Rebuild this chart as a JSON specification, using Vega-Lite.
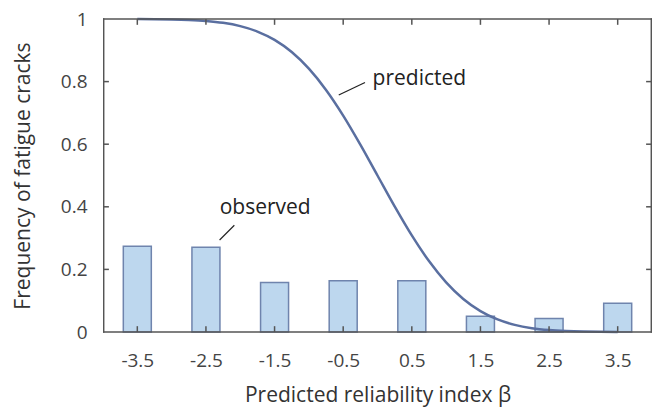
{
  "$schema": "https://vega.github.io/schema/vega-lite/v6.json",
  "autosize": "none",
  "width": 559,
  "height": 323,
  "padding": {"left": 98, "top": 14, "right": 8, "bottom": 70},
  "background": "white",
  "config": {
    "font": "Open Sans",
    "view": {"stroke": null},
    "axis": {
      "domainOpacity": 0,
      "tickOpacity": 0,
      "tickSize": 6,
      "grid": false,
      "labelFont": "Open Sans",
      "labelFontSize": 19,
      "labelColor": "#444444",
      "titleFont": "Open Sans",
      "titleFontSize": 21,
      "titleFontWeight": "normal",
      "titleColor": "#333333"
    }
  },
  "datasets": {
    "observed": [
      {"beta": -3.5, "freq": 0.274},
      {"beta": -2.5, "freq": 0.271},
      {"beta": -1.5, "freq": 0.158},
      {"beta": -0.5, "freq": 0.164},
      {"beta": 0.5, "freq": 0.164},
      {"beta": 1.5, "freq": 0.05},
      {"beta": 2.5, "freq": 0.043},
      {"beta": 3.5, "freq": 0.092}
    ],
    "predicted": [
      {"beta": -3.5, "p": 0.9998},
      {"beta": -3.25, "p": 0.9994},
      {"beta": -3.0, "p": 0.9987},
      {"beta": -2.75, "p": 0.997},
      {"beta": -2.5, "p": 0.9938},
      {"beta": -2.25, "p": 0.9878},
      {"beta": -2.0, "p": 0.9772},
      {"beta": -1.75, "p": 0.9599},
      {"beta": -1.5, "p": 0.9332},
      {"beta": -1.25, "p": 0.8944},
      {"beta": -1.0, "p": 0.8413},
      {"beta": -0.75, "p": 0.7734},
      {"beta": -0.5, "p": 0.6915},
      {"beta": -0.25, "p": 0.5987},
      {"beta": 0.0, "p": 0.5},
      {"beta": 0.25, "p": 0.4013},
      {"beta": 0.5, "p": 0.3085},
      {"beta": 0.75, "p": 0.2266},
      {"beta": 1.0, "p": 0.1587},
      {"beta": 1.25, "p": 0.1056},
      {"beta": 1.5, "p": 0.0668},
      {"beta": 1.75, "p": 0.0401},
      {"beta": 2.0, "p": 0.0228},
      {"beta": 2.25, "p": 0.0122},
      {"beta": 2.5, "p": 0.0062},
      {"beta": 2.75, "p": 0.003},
      {"beta": 3.0, "p": 0.0013},
      {"beta": 3.25, "p": 0.0006},
      {"beta": 3.5, "p": 0.0002}
    ],
    "labels": [
      {"label": "predicted", "bx": -0.072, "by": 0.789},
      {"label": "observed", "bx": -1.636, "by": 0.376}
    ],
    "leaders": [
      {"x1": -0.565, "y1": 0.757, "x2": -0.182, "y2": 0.797},
      {"x1": -2.301, "y1": 0.294, "x2": -2.086, "y2": 0.341}
    ],
    "xticks": [
      {"beta": -3.5}, {"beta": -2.5}, {"beta": -1.5}, {"beta": -0.5},
      {"beta": 0.5}, {"beta": 1.5}, {"beta": 2.5}, {"beta": 3.5}
    ],
    "yticks": [
      {"v": 0.2}, {"v": 0.4}, {"v": 0.6}, {"v": 0.8}
    ],
    "one": [{}]
  },
  "resolve": {"axis": {"x": "independent", "y": "independent"}},
  "layer": [
    {
      "data": {"name": "observed"},
      "mark": {"type": "bar", "width": 28, "fill": "#bdd7ee", "stroke": "#6f84ad", "strokeWidth": 1.5},
      "encoding": {
        "x": {
          "field": "beta", "type": "quantitative",
          "scale": {"domain": [-4, 4], "nice": false, "zero": false},
          "axis": {
            "orient": "bottom",
            "values": [-3.5, -2.5, -1.5, -0.5, 0.5, 1.5, 2.5, 3.5],
            "labelExpr": "datum.value + ''",
            "labelPadding": 8,
            "title": "Predicted reliability index β",
            "titlePadding": 14
          }
        },
        "y": {
          "field": "freq", "type": "quantitative",
          "scale": {"domain": [0, 1], "nice": false},
          "axis": {
            "orient": "left",
            "values": [0, 0.2, 0.4, 0.6, 0.8, 1],
            "format": "~g",
            "labelPadding": 5,
            "title": "Frequency of fatigue cracks",
            "titlePadding": 27
          }
        }
      }
    },
    {
      "data": {"name": "predicted"},
      "mark": {"type": "line", "color": "#5a6fa0", "strokeWidth": 2.5, "interpolate": "monotone"},
      "encoding": {
        "x": {"field": "beta", "type": "quantitative", "axis": null},
        "y": {"field": "p", "type": "quantitative", "axis": null}
      }
    },
    {
      "data": {"name": "one"},
      "mark": {"type": "rect", "fill": "#555555"},
      "encoding": {
        "x": {"datum": -4, "type": "quantitative", "axis": null},
        "x2": {"datum": -3.979},
        "y": {"datum": -0.0023, "type": "quantitative", "axis": null},
        "y2": {"datum": 1.0023}
      }
    },
    {
      "data": {"name": "one"},
      "mark": {"type": "rect", "fill": "#555555"},
      "encoding": {
        "x": {"datum": 3.979, "type": "quantitative", "axis": null},
        "x2": {"datum": 4},
        "y": {"datum": -0.0023, "type": "quantitative", "axis": null},
        "y2": {"datum": 1.0023}
      }
    },
    {
      "data": {"name": "one"},
      "mark": {"type": "rect", "fill": "#555555"},
      "encoding": {
        "x": {"datum": -4, "type": "quantitative", "axis": null},
        "x2": {"datum": 4},
        "y": {"datum": -0.0023, "type": "quantitative", "axis": null},
        "y2": {"datum": 0.0023}
      }
    },
    {
      "data": {"name": "one"},
      "mark": {"type": "rect", "fill": "#555555"},
      "encoding": {
        "x": {"datum": -4, "type": "quantitative", "axis": null},
        "x2": {"datum": 4},
        "y": {"datum": 0.9977, "type": "quantitative", "axis": null},
        "y2": {"datum": 1.0023}
      }
    },
    {
      "data": {"name": "xticks"},
      "mark": {"type": "bar", "width": 1.5, "fill": "#555555"},
      "encoding": {
        "x": {"field": "beta", "type": "quantitative", "axis": null},
        "y": {"datum": 0, "type": "quantitative", "axis": null},
        "y2": {"datum": 0.0186}
      }
    },
    {
      "data": {"name": "xticks"},
      "mark": {"type": "bar", "width": 1.5, "fill": "#555555"},
      "encoding": {
        "x": {"field": "beta", "type": "quantitative", "axis": null},
        "y": {"datum": 0.9814, "type": "quantitative", "axis": null},
        "y2": {"datum": 1}
      }
    },
    {
      "data": {"name": "yticks"},
      "mark": {"type": "bar", "height": 1.5, "fill": "#555555", "orient": "horizontal"},
      "encoding": {
        "y": {"field": "v", "type": "quantitative", "axis": null},
        "x": {"datum": -4, "type": "quantitative", "axis": null},
        "x2": {"datum": -3.914}
      }
    },
    {
      "data": {"name": "yticks"},
      "mark": {"type": "bar", "height": 1.5, "fill": "#555555", "orient": "horizontal"},
      "encoding": {
        "y": {"field": "v", "type": "quantitative", "axis": null},
        "x": {"datum": 3.914, "type": "quantitative", "axis": null},
        "x2": {"datum": 4}
      }
    },
    {
      "data": {"name": "leaders"},
      "mark": {"type": "rule", "color": "#222222", "strokeWidth": 1.2},
      "encoding": {
        "x": {"field": "x1", "type": "quantitative", "axis": null},
        "y": {"field": "y1", "type": "quantitative", "axis": null},
        "x2": {"field": "x2"},
        "y2": {"field": "y2"}
      }
    },
    {
      "data": {"name": "labels"},
      "transform": [{"filter": "datum.label == 'predicted'"}],
      "mark": {"type": "text", "fontSize": 21, "color": "#222222", "baseline": "alphabetic", "align": "left"},
      "encoding": {
        "x": {"field": "bx", "type": "quantitative", "axis": null},
        "y": {"field": "by", "type": "quantitative", "axis": null},
        "text": {"field": "label"}
      }
    },
    {
      "data": {"name": "labels"},
      "transform": [{"filter": "datum.label == 'observed'"}],
      "mark": {"type": "text", "fontSize": 21, "color": "#222222", "baseline": "alphabetic", "align": "center"},
      "encoding": {
        "x": {"field": "bx", "type": "quantitative", "axis": null},
        "y": {"field": "by", "type": "quantitative", "axis": null},
        "text": {"field": "label"}
      }
    }
  ]
}
